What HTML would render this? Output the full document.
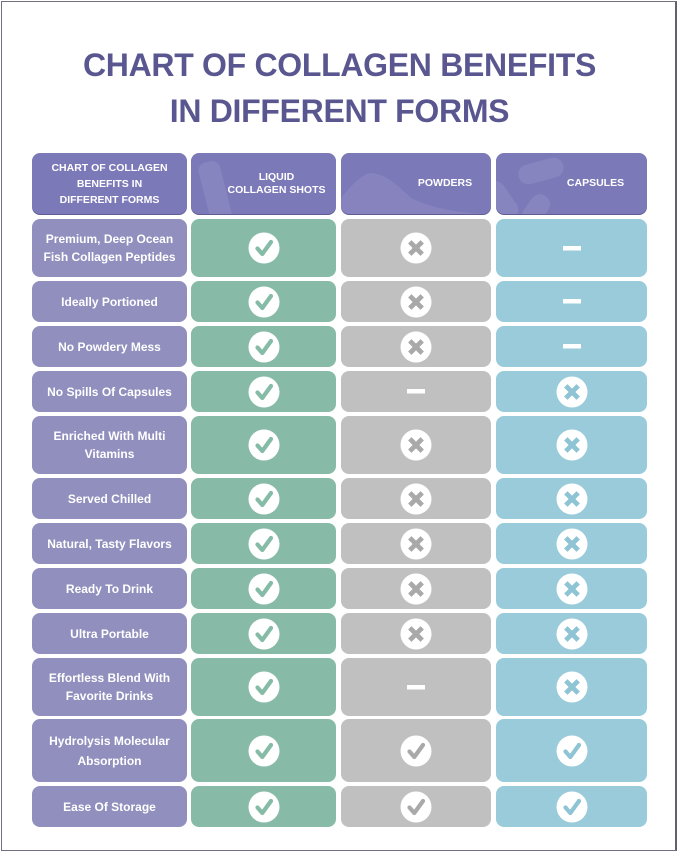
<!DOCTYPE html>
<html><head><meta charset="utf-8">
<style>
*{margin:0;padding:0;box-sizing:border-box}
body{width:679px;height:852px;background:#fff;position:relative;overflow:hidden;font-family:"Liberation Sans",sans-serif}
.frame{position:absolute;left:1px;top:1px;width:676px;height:850px;border:1px solid #707080;border-right:2px solid #606070}
.t{position:absolute;left:0;width:679px;text-align:center;font-weight:bold;font-size:32px;line-height:32px;color:#5a5790;letter-spacing:-0.3px}
.c{position:absolute;border-radius:8px;display:flex;align-items:center;justify-content:center;color:#fff;font-weight:bold;text-align:center}
.h{background:#7c79b9;box-shadow:0 1px 0 #5f5c94;font-size:10.5px;line-height:12.5px;overflow:hidden}
.l{background:#918fbe;font-size:12px;line-height:18px}
.g{background:#87bba8}
.s{background:#c0c0c0}
.b{background:#99cbda}
.c svg{display:block}
.deco{position:absolute;background:rgba(255,255,255,0.09);border-radius:8px}
</style></head><body>
<div class="frame"></div>
<div class="t" style="top:49px">CHART OF COLLAGEN BENEFITS</div>
<div class="t" style="top:95px">IN DIFFERENT FORMS</div>

<!-- header -->
<div class="c h" style="left:32px;top:153px;width:155px;height:61px;line-height:16px">CHART OF COLLAGEN<br>BENEFITS IN<br>DIFFERENT FORMS</div>
<div class="c h" style="left:191px;top:153px;width:145px;height:61px">
  <div class="deco" style="left:14px;top:8px;width:22px;height:70px;transform:rotate(-14deg)"></div>
  <div style="position:relative;left:13px">LIQUID<br>COLLAGEN SHOTS</div></div>
<div class="c h" style="left:341px;top:153px;width:150px;height:61px">
  <svg style="position:absolute;left:0;top:0" width="150" height="61"><path d="M0 45 Q20 20 30 20 Q45 20 70 45 Q100 60 150 61 L0 61Z" fill="rgba(255,255,255,0.08)"/></svg>
  <div style="position:relative;left:29px">POWDERS</div></div>
<div class="c h" style="left:496px;top:153px;width:151px;height:61px">
  <div class="deco" style="left:22px;top:8px;width:46px;height:20px;border-radius:10px;transform:rotate(-15deg)"></div>
  <div class="deco" style="left:-6px;top:26px;width:22px;height:44px;border-radius:11px;transform:rotate(-35deg)"></div>
  <div class="deco" style="left:30px;top:40px;width:20px;height:34px;border-radius:10px;transform:rotate(35deg)"></div>
  <div style="position:relative;left:24px">CAPSULES</div></div>

<!-- rows -->
<div id="rows"></div>
<script>
var C='<svg width="32" height="32"><circle cx="16" cy="16" r="15.5" fill="#fff"/><path d="M9.5 16.5 L14.3 22 L23 10" fill="none" stroke="COL" stroke-width="4.2" stroke-linejoin="round" stroke-linecap="round"/></svg>';
var X='<svg width="32" height="32"><circle cx="16" cy="16" r="15.5" fill="#fff"/><path d="M9.8 9.8 L22.2 22.2 M22.2 9.8 L9.8 22.2" fill="none" stroke="COL" stroke-width="4.8" stroke-linecap="butt"/></svg>';
var D='<svg width="18" height="5"><rect x="0" y="0" width="18" height="4.5" fill="#fff"/></svg>';
var rows=[
[219,58,"Premium, Deep Ocean<br>Fish Collagen Peptides","cxd"],
[281,41,"Ideally Portioned","cxd"],
[326,41,"No Powdery Mess","cxd"],
[371,41,"No Spills Of Capsules","cdx"],
[416,58,"Enriched With Multi<br>Vitamins","cxx"],
[478,41,"Served Chilled","cxx"],
[523,41,"Natural, Tasty Flavors","cxx"],
[568,41,"Ready To Drink","cxx"],
[613,41,"Ultra Portable","cxx"],
[658,58,"Effortless Blend With<br>Favorite Drinks","cdx"],
[719,63,"Hydrolysis Molecular<br>Absorption","ccc"],
[786,41,"Ease Of Storage","ccc"]];
var cols=[[191,145,"g","#86bba8"],[341,150,"s","#a9a9a9"],[496,151,"b","#8ec4d4"]];
var h='';
rows.forEach(function(r){
  var lh=r[1]>60?'line-height:20px;':'';
  h+='<div class="c l" style="left:32px;top:'+r[0]+'px;width:155px;height:'+r[1]+'px;'+lh+'">'+r[2]+'</div>';
  for(var i=0;i<3;i++){
    var k=r[3][i],col=cols[i],ic;
    if(k=='c')ic=C.replace('COL',col[3]);else if(k=='x')ic=X.replace('COL',col[3]);else ic=D;
    h+='<div class="c '+col[2]+'" style="left:'+col[0]+'px;top:'+r[0]+'px;width:'+col[1]+'px;height:'+r[1]+'px">'+ic+'</div>';
  }
});
document.getElementById('rows').innerHTML=h;
</script>
</body></html>
